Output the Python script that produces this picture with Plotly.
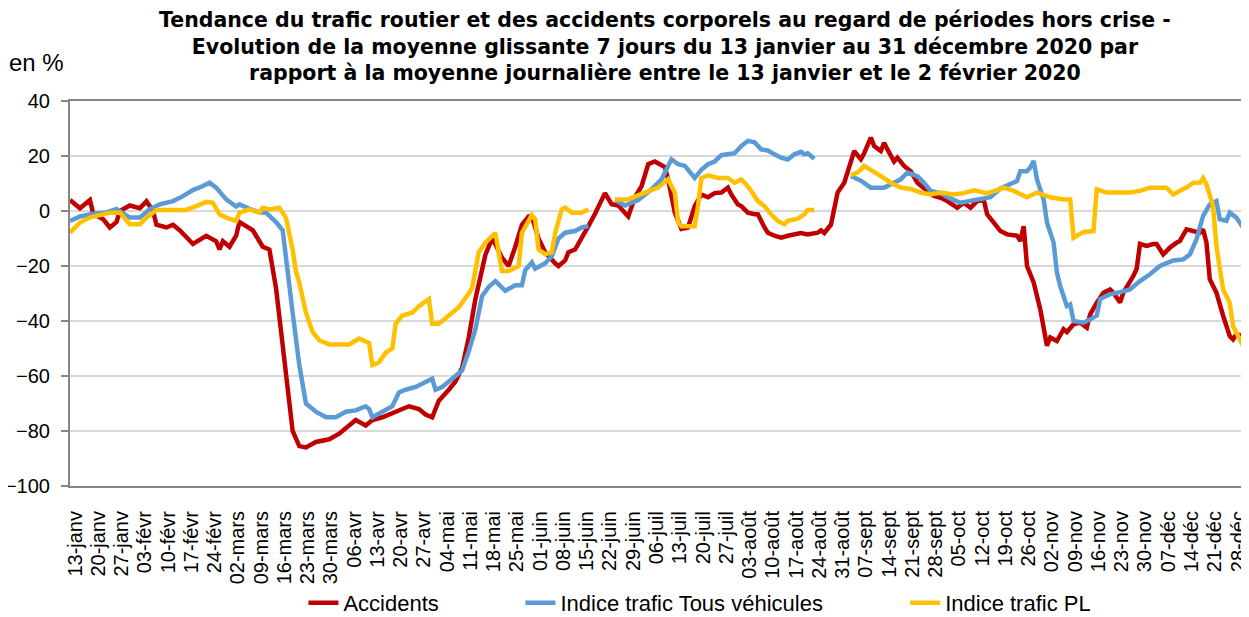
import pandas as pd
import plotly.graph_objects as go

START = "2020-01-13"
END = "2020-12-31"

# ---- data: (days since 13 janv 2020, value in %) ----
acc_days = [0, 3, 6, 7, 10, 12, 14, 15, 18, 21, 23, 25, 26, 29, 31, 33, 37, 41, 44, 45, 46, 48, 50, 51, 53, 55, 58, 60,
            62, 64, 66, 67, 69, 71, 74, 78, 81, 83, 86, 89, 91, 94, 98, 102, 105, 107, 109, 111, 114, 116, 118, 120,
            122, 123, 125, 127, 128, 130, 132, 134, 136, 138, 139, 141, 143, 146, 147, 149, 150, 152, 154, 156, 158,
            161, 163, 165, 168, 170, 172, 174, 176, 179, 180, 182, 184, 186, 188, 190, 192, 194, 196, 198, 199, 201,
            202, 204, 206, 207, 209, 210, 212, 214, 216, 218, 220, 222, 225, 226, 227, 229, 230, 231, 233, 235, 236,
            238, 239, 241, 242, 244, 245, 246, 248, 249, 251, 253, 255, 258, 260, 262, 264, 267, 269, 271, 273, 275,
            276, 278, 280, 282, 285, 286, 287, 288, 290, 292, 293, 294, 295, 297, 299, 300, 302, 304, 306, 307, 309,
            311, 313, 314, 316, 317, 320, 321, 322, 324, 326, 327, 329, 331, 333, 334, 336, 338, 340, 341, 342, 343,
            345, 347, 349, 350, 351, 353]
acc_vals = [4, 1, 4, -1, -3, -6, -4, 0, 2, 1, 3.5, 0, -5, -6, -5, -7, -12, -9, -11, -14, -11, -13, -9, -4, -5.5, -7, -13, -14,
            -28, -49, -71, -80, -85.5, -86, -84, -83, -81, -79, -76, -78, -76, -75, -73, -71, -72, -74, -75, -69, -65, -62, -57, -46,
            -32, -26, -16, -10, -12, -17, -20, -13, -5, -2, -2, -10, -15, -19, -20, -18, -15, -14, -10, -5.5, -1,
            6.5, 2.5, 2, -2, 5, 9, 17, 18, 16, 11.5, -0.5, -6.5, -6, 1.8, 6, 5, 6.5, 6.7, 8.5, 6, 2.4,
            1.8, -0.6, -1.2, -1.2, -6, -7.9, -9, -9.7, -9, -8.5, -8, -8.5, -7.9, -7, -8, -5, 2, 6.7, 10.3, 17.6, 21.8,
            18.8, 21, 26.7, 23.6, 21.8, 24.8, 22.4, 18, 19.4, 16.4, 14.5, 10.3, 7.3, 5.5, 4.8, 3.6, 1.2, 3, 1.2, 3.6, 4,
            -1.2, -4.2, -7.3, -8.5, -9, -10.9, -5.5, -20, -26, -35.8, -41.8, -49, -46, -47.3, -43, -44, -41.2, -40.6, -42.4, -37.6, -33.3,
            -29.7, -28.5, -29.7, -33.3, -29.7, -23.6, -21, -12, -12.7, -12, -12, -15.8, -13.3, -11.5, -10.9, -6.7, -7.3, -7.9, -6.7, -11.5, -24.8,
            -29.7, -38, -45.5, -46.7, -44.8, -45.5]

tv_days = [0, 3, 7, 11, 14, 18, 21, 24, 27, 31, 34, 37, 40, 42, 44, 47, 50, 51, 54, 57, 59, 61, 62, 64, 65, 67, 69, 71,
           74, 77, 80, 83, 86, 89, 90, 91, 94, 97, 99, 101, 104, 107, 109, 110, 112, 115, 118, 120, 122, 124, 126, 128,
           131, 134, 136, 137, 139, 140, 143, 145, 147, 149, 152, 154, 156, 160, 164, 167, 171, 175, 178, 181, 183, 185,
           186, 188, 190, 192, 194, 196, 200, 202, 204, 206, 208, 210, 212, 214, 216, 218, 220, 221, 222, 224, 229,
           235, 238, 241, 245, 248, 250, 252, 255, 257, 259, 262, 265, 268, 271, 274, 277, 280, 283, 285, 286, 288,
           289, 290, 291, 293, 294, 296, 297, 298, 300, 301, 302, 305, 307, 309, 310, 313, 316, 319, 322, 325, 328,
           332, 335, 337, 339, 341, 343, 345, 346, 348, 349, 351, 353]
tv_vals = [-3.6, -2, -1, -0.5, 0.7, -2.4, -2.4, 0.7, 2.4, 3.6, 5.4, 7.6, 9.1, 10.3, 8.5, 4.2, 1.6, 2.4, 0.8, -0.5, -0.6, -3, -4, -7, -16, -37, -56, -70,
           -73, -75, -75, -73, -72.5, -71, -72, -75, -73, -71, -66, -65, -64, -62, -61, -65, -64, -61, -58, -51, -43, -31, -27.6, -25.5,
           -29, -27, -27, -21.5, -18.7, -21, -19, -16.4, -10, -7.9, -7.3, -6, -5.5, None, 4, 2, 4, 7.9, 11.5, 18.8, 17, 16.4,
           15, 12, 15, 17, 18, 20.3, 21, 23.6, 25.5, 25, 22.4, 22, 20.6, 19.4, 18.7, 20.6, 21.5, 20.6, 21, 19, None,
           12.7, 11, 8.5, 8.5, 10.3, 11.5, 14, 12.7, 10.3, 7.3, 6.5, 4.5, 3, 3.6, 4.2, 5, 8.2, 9.7, 10.9, 14.5, 14.5,
           15.8, 18.2, 11.5, 4.2, -4.2, -11.5, -22.4, -27.3, -34.6, -34, -40, -40.6, -39.4, -38, -32, -30.3, -29.5, -28.5, -25.5, -23, -20,
           -18, -17.6, -15.8, -10.3, -1.8, 2.4, 3.6, -3, -3.6, -0.6, -2.4, -6]

pl_days = [0, 3, 6, 9, 12, 15, 18, 21, 23, 26, 35, 38, 41, 43, 45, 47, 50, 51, 54, 57, 58, 60, 63, 65, 67, 68, 69, 71,
           73, 75, 78, 84, 87, 90, 91, 93, 95, 97, 98, 100, 103, 105, 108, 109, 111, 114, 117, 120, 121, 123, 125, 128,
           129, 130, 132, 135, 136, 139, 140, 141, 143, 145, 146, 148, 149, 151, 154, 156, 160, 164, 168, 173, 177, 180,
           182, 183, 184, 188, 189, 190, 192, 195, 198, 200, 202, 203, 205, 207, 209, 211, 213, 215, 216, 219, 221, 222,
           224, 229, 235, 237, 239, 241, 244, 247, 250, 253, 256, 259, 262, 266, 269, 272, 274, 276, 279, 281, 284, 288,
           291, 295, 299, 301, 302, 305, 308, 309, 312, 319, 322, 325, 330, 332, 335, 336, 338, 340, 341, 342, 344, 345,
           347, 349, 350, 352, 353]
pl_vals = [-7.9, -4.2, -2.4, -1.6, -0.6, -0.6, -4.8, -4.8, -2.4, 0.4, 0.4, 1.8, 3.3, 3, -1.2, -2.4, -3.6, -0.6, 0.6, -0.6, 1.2, 0.6, 1.2, -2.5, -14, -22, -26, -37,
           -44, -47, -48.5, -48.5, -46.4, -48, -56, -55, -51.5, -50, -41, -38, -37, -34.6, -32, -41, -41, -38, -35, -30, -28, -15, -11.5, -8,
           -16, -21.8, -21.8, -20, -8, -1.5, -3, -14, -15.7, -15, -8, 0.6, 1.2, -0.6, -0.6, 0.6, None, 4.2, 4.2, 6.7, 8.5, 11.5,
           6.7, -4.2, -5.5, -5.5, 1.8, 12, 13, 12, 12, 10.3, 11.5, 10.3, 7.3, 3.6, 1.8, -1.2, -3.6, -4.8, -3.6, -2.8, -1.2, 0.4,
           0.4, None, 13, 14, 16.4, 15, 12.7, 10.3, 8.5, 8, 6.7, 6, 6.7, 6, 6.5, 7.5, 7, 6.5, 7.6, 8.5, 7.3, 5,
           6.7, 5, 4.2, 4.2, -9.7, -7.6, -7.3, 7.9, 6.7, 6.7, 7.3, 8.5, 8.5, 6, 8, 8.5, 10.3, 10.3, 12, 9.7, 1.8, -12.7,
           -28.5, -33.3, -41.8, -47, -49]

tick_labels = ["13-janv", "20-janv", "27-janv", "03-févr", "10-févr", "17-févr", "24-févr", "02-mars", "09-mars",
               "16-mars", "23-mars", "30-mars", "06-avr", "13-avr", "20-avr", "27-avr", "04-mai", "11-mai", "18-mai",
               "25-mai", "01-juin", "08-juin", "15-juin", "22-juin", "29-juin", "06-juil", "13-juil", "20-juil",
               "27-juil", "03-août", "10-août", "17-août", "24-août", "31-août", "07-sept", "14-sept", "21-sept",
               "28-sept", "05-oct", "12-oct", "19-oct", "26-oct", "02-nov", "09-nov", "16-nov", "23-nov", "30-nov",
               "07-déc", "14-déc", "21-déc", "28-déc"]

TITLE = ("Tendance du trafic routier et des accidents corporels au regard de périodes hors crise -<br>"
         "Evolution de la moyenne glissante 7 jours du 13 janvier au 31 décembre 2020 par<br>"
         "rapport à la moyenne journalière entre le 13 janvier et le 2 février 2020")

series = [
    ("Accidents", acc_days, acc_vals, "#C00000", "legend"),
    ("Indice trafic Tous véhicules", tv_days, tv_vals, "#5B9BD5", "legend2"),
    ("Indice trafic PL", pl_days, pl_vals, "#FFC000", "legend3"),
]

base = pd.Timestamp(START)
tick_dates = [base + pd.Timedelta(days=7 * i) for i in range(len(tick_labels))]

FONT = "Liberation Sans, Arial, sans-serif"
GREY = "#868686"

fig = go.Figure()
for name, days, vals, color, lg in series:
    x = [base + pd.Timedelta(days=d) for d in days]
    fig.add_trace(go.Scatter(x=x, y=vals, mode="lines", name=name, legend=lg,
                             line=dict(color=color, width=4.5), connectgaps=False,
                             hoverinfo="skip"))

ymin, ymax = -100, 40
zero_pos = (0 - ymin) / (ymax - ymin)

legend_common = dict(orientation="h", y=-0.304, xanchor="left", yanchor="middle",
                     font=dict(size=22), bgcolor="rgba(0,0,0,0)")

# the page body has an 8px margin, so the figure is 8px smaller than the window
fig.update_layout(
    width=1241, height=609,
    margin=dict(l=62, r=6, t=93, b=131, autoexpand=False),
    paper_bgcolor="white", plot_bgcolor="white",
    font=dict(family=FONT, size=20, color="black"),
    xaxis=dict(type="date", range=[START, END], tickmode="array", tickvals=tick_dates,
               ticktext=tick_labels, tickangle=-90, ticks="", showgrid=False,
               showline=True, linecolor=GREY, linewidth=2, mirror=True,
               tickfont=dict(size=20), zeroline=False, automargin=False,
               ticklabelstandoff=15, ticklabelshift=5),
    xaxis2=dict(type="date", range=[START, END], overlaying="x", anchor="free", position=zero_pos,
                side="bottom", tickmode="array", tickvals=tick_dates, ticks="outside", ticklen=6,
                tickwidth=2.5, tickcolor=GREY, showticklabels=False, showgrid=False,
                showline=True, linecolor=GREY, linewidth=2.5, zeroline=False, automargin=False),
    xaxis3=dict(type="date", range=[START, END], overlaying="x", anchor="free", position=zero_pos,
                side="top", tickmode="array", tickvals=tick_dates, ticks="outside", ticklen=6,
                tickwidth=2.5, tickcolor=GREY, showticklabels=False, showgrid=False,
                showline=False, zeroline=False, automargin=False),
    yaxis=dict(range=[ymin, ymax], dtick=20, tick0=0, ticks="outside", ticklen=7, tickwidth=2,
               tickcolor=GREY, showline=True, linecolor=GREY, linewidth=2, mirror=True,
               showgrid=True, gridcolor="#D9D9D9", gridwidth=1.5, zeroline=False,
               tickfont=dict(size=20), automargin=False, ticklabelstandoff=7),
    legend=dict(x=0.199, **legend_common),
    legend2=dict(x=0.384, **legend_common),
    legend3=dict(x=0.712, **legend_common),
    showlegend=True,
    annotations=[
        dict(text=TITLE, xref="paper", yref="paper", x=0.507, y=1.246, xanchor="center", yanchor="top",
             showarrow=False, align="center",
             font=dict(family="DejaVu Sans, sans-serif", size=20.5, color="black", weight="bold")),
        dict(text="en %", xref="paper", yref="paper", x=-0.054, y=1.10,
             xanchor="left", yanchor="middle", showarrow=False, font=dict(size=24)),
    ],
)

fig.write_html("out.html")
